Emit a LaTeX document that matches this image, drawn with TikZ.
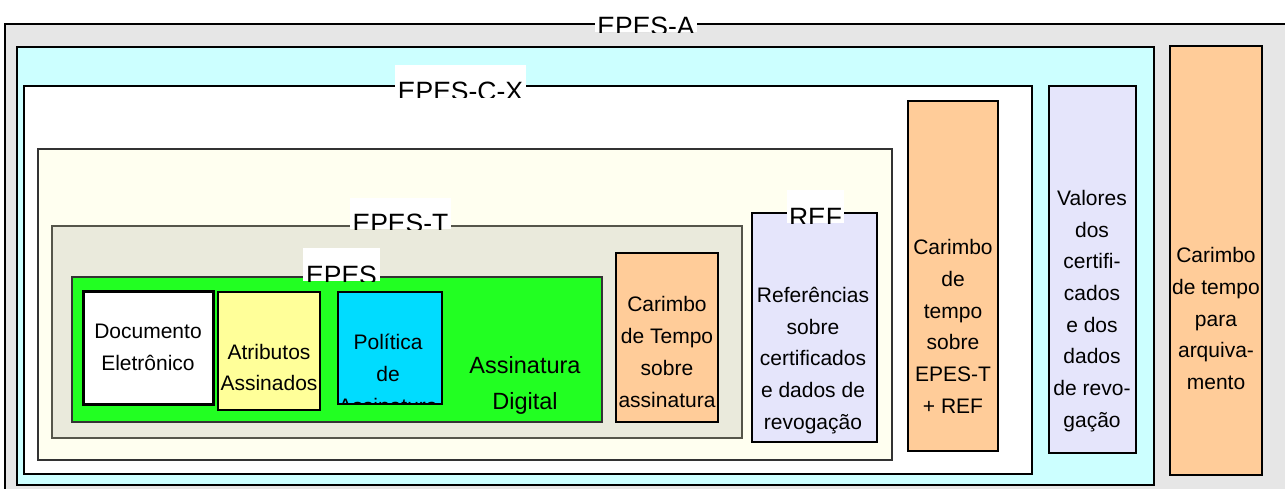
\documentclass[tikz,border=0pt]{standalone}
\usepackage{fontspec}
\setmainfont{Liberation Sans}
\definecolor{bggray}{HTML}{E6E6E6}
\definecolor{cyanbg}{HTML}{CCFFFF}
\definecolor{creambg}{HTML}{FFFFF0}
\definecolor{tbg}{HTML}{EAEADC}
\definecolor{tborder}{HTML}{55554A}
\definecolor{greenbg}{HTML}{22FF22}
\definecolor{yellowbg}{HTML}{FFFF99}
\definecolor{polbg}{HTML}{00DCFF}
\definecolor{orangebg}{HTML}{FFCC99}
\definecolor{lavbg}{HTML}{E5E5FB}
\tikzset{
  cont/.style={draw=black, line width=1.5pt},
  item/.style={draw=black, line width=2pt},
  txt/.style={align=center, inner sep=0pt, font=\fontsize{21}{31.7}\selectfont},
  bigtxt/.style={align=center, inner sep=0pt, font=\fontsize{23.5}{36}\selectfont},
  lbl/.style={anchor=base, inner sep=0pt, font=\fontsize{26.5}{30}\selectfont},
}
\begin{document}
\begin{tikzpicture}[x=1pt,y=-1pt]
\useasboundingbox (0,0) rectangle (1285,488);
\clip (0,0) rectangle (1285,488);
% EPES-A
\fill[bggray] (5,24) rectangle (1300,500);
\draw[line width=1.5pt] (1300,24) -- (5,24) -- (5,500);
% cyan
\path[cont, fill=cyanbg] (17,47) rectangle (1154,485);
% EPES-C-X
\path[cont, fill=white] (24,86) rectangle (1032,474);
% cream
\path[cont, draw=black!80, fill=creambg] (38,149) rectangle (892,460);
% EPES-T
\path[cont, draw=tborder, fill=tbg] (52,226) rectangle (742,438);
% EPES
\path[cont, draw=black!80, line width=1.2pt, fill=greenbg] (72,277) rectangle (602,422);
% items
\path[item, line width=3pt, fill=white] (83,291) rectangle (213,404);
\node[txt] (doc) at (148,347.5) {Documento\\Eletrônico};
\path[item, fill=yellowbg] (218,292) rectangle (320,410);
\node[txt] (atr) at (269,367.5) {Atributos\\Assinados};
\path[item, fill=polbg] (338,292) rectangle (442,404);
\begin{scope}
  \clip (339,293) rectangle (441,403);
  \node[txt] (pol) at (388,374) {Política\\de\\Assinatura};
\end{scope}
\node[bigtxt] (ass) at (525,385) {Assinatura\\Digital};
\path[item, fill=orangebg] (616,253) rectangle (718,422);
\node[txt] (cts) at (667,352) {Carimbo\\de Tempo\\sobre\\assinatura};
\path[item, fill=lavbg] (752,213) rectangle (877,442);
\node[txt] (ref) at (813,360.5) {Referências\\sobre\\certificados\\e dados de\\revogação};
\path[item, fill=orangebg] (908,101) rectangle (998,451);
\node[txt] (cte) at (953,326.5) {Carimbo\\de\\tempo\\sobre\\EPES-T\\+ REF};
\path[item, fill=lavbg] (1049,86) rectangle (1136,453);
\node[txt] (val) at (1092,311) {Valores\\dos\\certifi-\\cados\\e dos\\dados\\de revo-\\gação};
\path[item, fill=orangebg] (1170,46) rectangle (1262,475);
\node[txt] (cta) at (1216,318.5) {Carimbo\\de tempo\\para\\arquiva-\\mento};
% labels
\begin{scope}
  \clip (595,10) rectangle (697,32);
  \fill[white] (595,10) rectangle (697,32);
  \node[lbl] (la) at (646,35) {EPES-A};
\end{scope}
\begin{scope}
  \clip (395,65) rectangle (526,97);
  \fill[white] (395,65) rectangle (526,97);
  \node[lbl] (lcx) at (460.5,100) {EPES-C-X};
\end{scope}
\begin{scope}
  \clip (350,198) rectangle (451,229);
  \fill[white] (350,198) rectangle (451,229);
  \node[lbl] (lt) at (400.5,232) {EPES-T};
\end{scope}
\begin{scope}
  \clip (303,248) rectangle (380,281);
  \fill[white] (303,248) rectangle (380,281);
  \node[lbl] (le) at (341.5,284) {EPES};
\end{scope}
\begin{scope}
  \clip (787,190) rectangle (844,223);
  \fill[white] (787,190) rectangle (844,223);
  \node[lbl] (lr) at (815.5,226) {REF};
\end{scope}
\end{tikzpicture}
\end{document}
